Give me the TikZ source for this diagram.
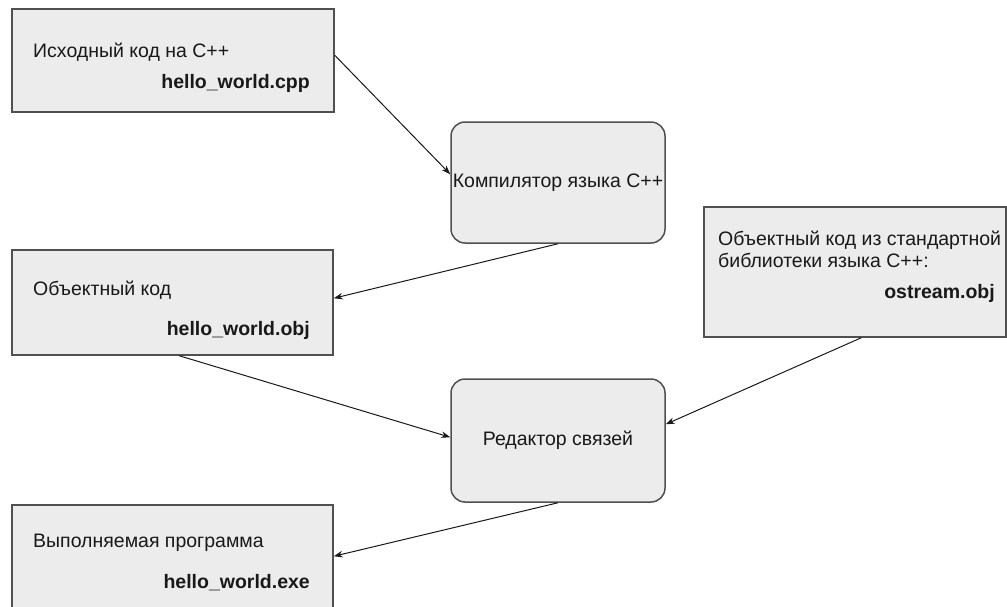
\documentclass[tikz,border=0pt]{standalone}
\usepackage{fontspec}
\setmainfont{Liberation Sans}
\usetikzlibrary{arrows.meta,calc}
\definecolor{boxfill}{RGB}{236,236,236}
\definecolor{boxline}{RGB}{80,80,80}
\definecolor{ink}{RGB}{25,25,25}
\begin{document}
\begin{tikzpicture}[x=1pt,y=-1pt,
  sqbox/.style={draw=boxline, fill=boxfill, line width=1.5pt, inner sep=0pt},
  rbox/.style={sqbox, rounded corners=14pt, align=center, text=ink, font=\fontsize{19.5}{22}\selectfont},
  txt/.style={text=ink, inner sep=0pt, font=\fontsize{19.5}{22}\selectfont},
  btxt/.style={txt, font=\fontsize{19.5}{22}\selectfont\bfseries},
  arr/.style={draw=ink, line width=1pt, -{Stealth[length=9pt,width=6.5pt]}}]
\useasboundingbox (0,0) rectangle (1007,606);
% boxes
\node[sqbox, minimum width=322pt, minimum height=103pt] (src) at (173,60.5) {};
\node[sqbox, minimum width=321pt, minimum height=105pt] (obj) at (172.5,302.5) {};
\node[sqbox, minimum width=321pt, minimum height=112pt] (exe) at (172.5,561) {};
\node[sqbox, minimum width=302pt, minimum height=130pt] (lib) at (855,272) {};
\node[rbox, minimum width=214pt, minimum height=121pt] (comp) at (558,182.5) {Компилятор языка C++};
\node[rbox, minimum width=214pt, minimum height=123pt] (link) at (558,440.5) {Редактор связей};
% texts
\node[txt, anchor=base west] (srct) at (33,57) {Исходный код на C++};
\node[btxt, anchor=base east] (srcf) at (310,88) {hello\_world.cpp};
\node[txt, anchor=base west] (objt) at (33,295) {Объектный код};
\node[btxt, anchor=base east] (objf) at (310,335) {hello\_world.obj};
\node[txt, anchor=base west] (exet) at (33,547) {Выполняемая программа};
\node[btxt, anchor=base east] (exef) at (310,588) {hello\_world.exe};
\node[txt, anchor=base west] (libt1) at (718,245) {Объектный код из стандартной};
\node[txt, anchor=base west] (libt2) at (718,267) {библиотеки языка C++:};
\node[btxt, anchor=base east] (libf) at (995,298) {ostream.obj};
% connectors
\draw[arr] ($(src.north east)+(0,47)$) -- ($(comp.north west)+(0,53)$);
\draw[arr] (comp.south) -- ($(obj.north east)+(0,49)$);
\draw[arr] ($(obj.south west)+(168,0)$) -- ($(link.north west)+(0,59)$);
\draw[arr] ($(lib.south west)+(158,0)$) -- ($(link.north east)+(0,46)$);
\draw[arr] (link.south) -- ($(exe.north east)+(0,52)$);
\end{tikzpicture}
\end{document}
